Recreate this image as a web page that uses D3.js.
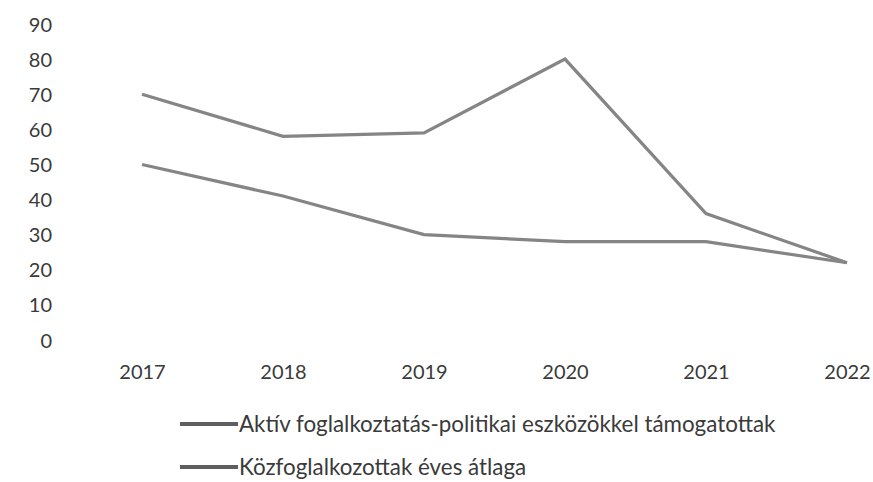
<!DOCTYPE html>
<html>
<head>
<meta charset="utf-8">
<script src="https://cdn.jsdelivr.net/npm/d3@7"></script>
<style>
  html, body { margin: 0; padding: 0; background: #fff; }
  svg { display: block; }
  text { font-family: Lato, "Open Sans", sans-serif; fill: #3a3a3a; }
</style>
</head>
<body>
<svg id="chart" width="873" height="482"></svg>
<script>
// Years on the horizontal axis
const years = ["2017", "2018", "2019", "2020", "2021", "2022"];
// Supported by active labour-market tools
const aktivValues = [70, 58, 59, 80, 36, 22];
// Annual average of public workers
const kozfogValues = [50, 41, 30, 28, 28, 22];
// Vertical axis ticks
const yTicks = [0, 10, 20, 30, 40, 50, 60, 70, 80, 90];
const seriesNames = [
  "Aktív foglalkoztatás-politikai eszközökkel támogatottak",
  "Közfoglalkozottak éves átlaga"
];

const svg = d3.select("#chart");

const x = d3.scalePoint().domain(years).range([142, 847]);
const y = d3.scaleLinear().domain([0, 90]).range([340, 24]);

// Y axis labels (no axis line, no gridlines)
const yAxis = d3.axisLeft(y).tickValues(yTicks).tickSize(0).tickPadding(0);
const gy = svg.append("g").attr("transform", "translate(52,0)").call(yAxis);
gy.select(".domain").remove();
gy.selectAll("text")
  .attr("font-size", 20)
  .attr("dy", "0.35em")
  .style("font-family", "Lato, sans-serif")
  .attr("fill", "#3a3a3a");

// X axis labels
const xAxis = d3.axisBottom(x).tickSize(0).tickPadding(0);
const gx = svg.append("g").attr("transform", "translate(0,372)").call(xAxis);
gx.select(".domain").remove();
gx.selectAll("text")
  .attr("font-size", 20)
  .attr("dy", "0.35em")
  .style("font-family", "Lato, sans-serif")
  .attr("fill", "#3a3a3a");

// Series lines
const line = d3.line()
  .x((d, i) => x(years[i]))
  .y(d => y(d));

[aktivValues, kozfogValues].forEach(vals => {
  svg.append("path")
    .datum(vals)
    .attr("d", line)
    .attr("fill", "none")
    .attr("stroke", "#858585")
    .attr("stroke-width", 3.2)
    .attr("stroke-linejoin", "miter");
});

// Legend
const legendY = [424, 467];
seriesNames.forEach((name, i) => {
  const g = svg.append("g");
  g.append("line")
    .attr("x1", 180).attr("x2", 238)
    .attr("y1", legendY[i]).attr("y2", legendY[i])
    .attr("stroke", "#5e5e5e")
    .attr("stroke-width", 4);
  g.append("text")
    .attr("class", "leg")
    .attr("x", 239)
    .attr("y", legendY[i])
    .attr("dy", "0.35em")
    .attr("font-size", 20)
    .text(name);
});

// Fit legend font size to the available width of the longer entry
const legTexts = svg.selectAll("text.leg");
const w0 = legTexts.nodes()[0].getComputedTextLength();
const fs = 20 * 537 / w0;
legTexts.attr("font-size", fs);
</script>
</body>
</html>
